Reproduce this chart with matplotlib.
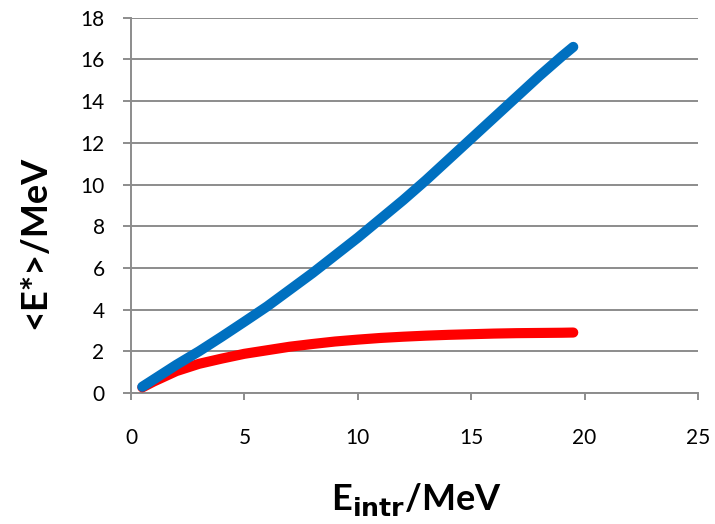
import matplotlib
matplotlib.use("Agg")
import matplotlib.pyplot as plt

# Mean excitation energy vs. intrinsic energy
e_intr = [0.5, 1, 2, 3, 4, 5, 6, 7, 8, 9, 10, 11, 12, 13, 14, 15, 16, 17, 18, 19, 19.5]
e_blue = [0.3, 0.65, 1.35, 2.0, 2.7, 3.42, 4.15, 4.95, 5.75, 6.6, 7.45, 8.35, 9.25,
          10.2, 11.2, 12.2, 13.2, 14.2, 15.2, 16.15, 16.6]
e_red = [0.27, 0.55, 1.05, 1.4, 1.65, 1.88, 2.05, 2.22, 2.35, 2.47, 2.56, 2.64, 2.70,
         2.75, 2.79, 2.82, 2.85, 2.87, 2.88, 2.89, 2.9]

x_ticks = [0, 5, 10, 15, 20, 25]
y_ticks = [0, 2, 4, 6, 8, 10, 12, 14, 16, 18]

plt.rcParams['font.family'] = ['Lato', 'DejaVu Sans']

fig = plt.figure(figsize=(7.15, 5.24), dpi=100)
ax = fig.add_axes([0.1832, 0.25, 0.793, 0.7162])

grid_c = '#8c8c8c'
ax.plot(e_intr, e_red, color='#FF0000', lw=7.3, solid_capstyle='round',
        solid_joinstyle='round', zorder=3)
ax.plot(e_intr, e_blue, color='#0070C0', lw=7.3, solid_capstyle='round',
        solid_joinstyle='round', zorder=4)

ax.set_xlim(0, 25)
ax.set_ylim(0, 18)
ax.set_xticks(x_ticks)
ax.set_yticks(y_ticks)
ax.yaxis.grid(True, color=grid_c, lw=1.4)
ax.set_axisbelow(True)
for s in ['top', 'right']:
    ax.spines[s].set_visible(False)
for s in ['left', 'bottom']:
    ax.spines[s].set_color(grid_c)
    ax.spines[s].set_linewidth(1.4)
ax.tick_params(axis='y', length=6, width=1.4, color=grid_c, labelsize=15, pad=13)
ax.tick_params(axis='x', length=5, width=1.4, color=grid_c, labelsize=15, pad=20)

fig.text(416 / 715, 1 - 499 / 524, r'E$_{\mathbf{intr}}$/MeV', fontsize=26,
         fontweight='bold', ha='center', va='center')
fig.text(35 / 715, 1 - 242 / 524, '<E*>/MeV', fontsize=26, fontweight='bold',
         ha='center', va='center', rotation=90)

fig.savefig('out.png', dpi=100, facecolor='white')
